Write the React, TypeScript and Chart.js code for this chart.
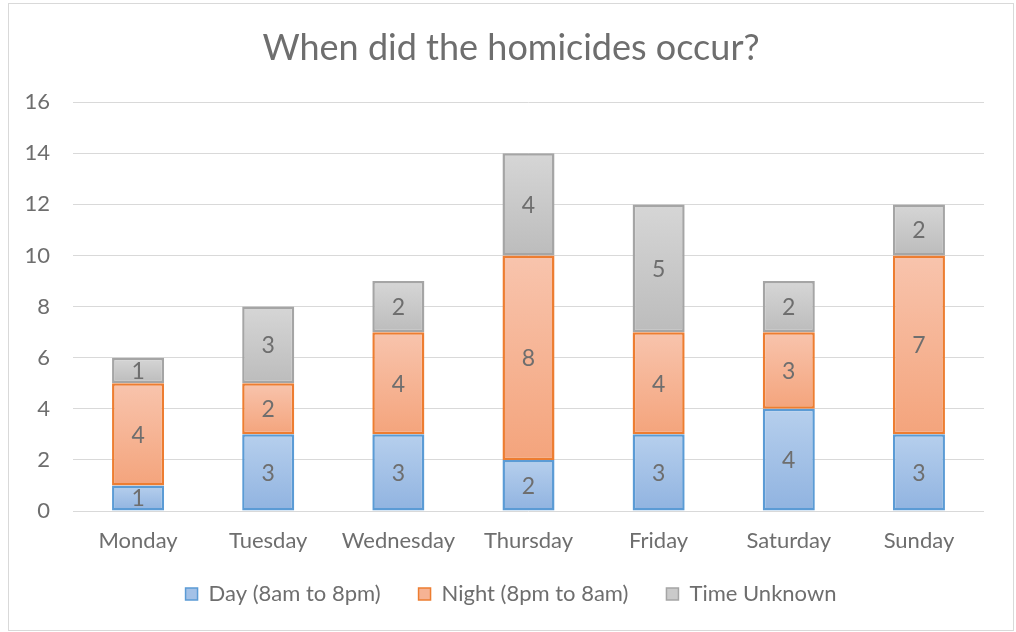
import React, { useEffect, useRef } from "react";
import { Chart, registerables } from "chart.js";

Chart.register(...registerables);

const days = ["Monday", "Tuesday", "Wednesday", "Thursday", "Friday", "Saturday", "Sunday"];
const dayValues = [1, 3, 3, 2, 3, 4, 3];
const nightValues = [4, 2, 4, 8, 4, 3, 7];
const unknownValues = [1, 3, 2, 4, 5, 2, 2];
const seriesNames = ["Day (8am to 8pm)", "Night (8pm to 8am)", "Time Unknown"];
const titleText = "When did the homicides occur?";

const FONT = "Lato, 'Open Sans', sans-serif";
const TEXT = "#6e6e6e";

function gradientFill(top: string, bottom: string, below: number[][]) {
  return (ctx: any) => {
    const chart = ctx.chart;
    const y = chart.scales?.y;
    if (!y || ctx.type !== "data") return bottom;
    const i = ctx.dataIndex;
    let base = 0;
    for (const arr of below) base += arr[i];
    const v = ctx.raw as number;
    const y0 = y.getPixelForValue(base + v);
    const y1 = y.getPixelForValue(base);
    if (!isFinite(y0) || !isFinite(y1) || y0 === y1) return bottom;
    const g = chart.ctx.createLinearGradient(0, y0, 0, y1);
    g.addColorStop(0, top);
    g.addColorStop(1, bottom);
    return g;
  };
}

const valueLabels = {
  id: "valueLabels",
  afterDatasetsDraw(chart: any) {
    const c = chart.ctx;
    c.save();
    c.font = `23px ${FONT}`;
    c.fillStyle = TEXT;
    c.textAlign = "center";
    c.textBaseline = "middle";
    chart.data.datasets.forEach((ds: any, di: number) => {
      const meta = chart.getDatasetMeta(di);
      meta.data.forEach((el: any, i: number) => {
        const v = ds.data[i];
        if (!v) return;
        c.fillText(String(v), el.x, (el.y + el.base) / 2 + 1);
      });
    });
    c.restore();
  },
};

const legendShift = {
  id: "legendShift",
  afterLayout(chart: any) {
    const lg = chart.legend;
    if (lg) {
      lg.top -= 9;
      lg.bottom -= 9;
    }
  },
};

const legendFills = ["#a3c1e7", "#f6b394", "#cacaca"];

export default function App() {
  const ref = useRef<HTMLCanvasElement | null>(null);
  useEffect(() => {
    if (!ref.current) return;
    const common = {
      borderWidth: 2.5,
      borderSkipped: false as const,
      categoryPercentage: 1,
      barPercentage: 0.4,
    };
    const chart = new Chart(ref.current, {
      type: "bar",
      data: {
        labels: days,
        datasets: [
          {
            label: seriesNames[0],
            data: dayValues,
            backgroundColor: gradientFill("#b6cfed", "#90b3e0", []),
            borderColor: "#5b9bd5",
            ...common,
          },
          {
            label: seriesNames[1],
            data: nightValues,
            backgroundColor: gradientFill("#f8c4ad", "#f4a47c", [dayValues]),
            borderColor: "#ed7d31",
            ...common,
          },
          {
            label: seriesNames[2],
            data: unknownValues,
            backgroundColor: gradientFill("#d6d6d6", "#bcbcbc", [dayValues, nightValues]),
            borderColor: "#a5a5a5",
            ...common,
          },
        ],
      },
      options: {
        animation: false,
        responsive: true,
        maintainAspectRatio: false,
        layout: { padding: { top: 23, left: 0, right: 0, bottom: 6 } },
        plugins: {
          title: {
            display: true,
            text: titleText,
            color: TEXT,
            font: { family: FONT, size: 36, weight: "normal" },
            padding: { top: 0, bottom: 32 },
          },
          legend: {
            position: "bottom",
            labels: {
              color: TEXT,
              font: { family: FONT, size: 22 },
              boxWidth: 12,
              boxHeight: 12,
              padding: 38,
              generateLabels: (chart: any) =>
                chart.data.datasets.map((ds: any, i: number) => ({
                  text: ds.label,
                  fillStyle: legendFills[i],
                  strokeStyle: ds.borderColor,
                  lineWidth: 1.5,
                  fontColor: TEXT,
                  datasetIndex: i,
                  hidden: false,
                })),
            },
          },
          tooltip: { enabled: false },
        },
        scales: {
          x: {
            stacked: true,
            grid: { display: false, drawTicks: false },
            border: { display: false },
            ticks: { color: TEXT, font: { family: FONT, size: 22 }, padding: 17 },
            afterFit: (s: any) => {
              s.height = 43;
            },
          },
          y: {
            stacked: true,
            min: 0,
            max: 16,
            grid: { color: "#d9d9d9", lineWidth: 1, drawTicks: false },
            border: { display: false },
            ticks: { stepSize: 2, color: TEXT, font: { family: FONT, size: 22 }, padding: 23 },
            afterFit: (s: any) => {
              s.width = 64;
            },
          },
          y2: {
            position: "right",
            display: true,
            min: 0,
            max: 16,
            grid: { display: false, drawTicks: false },
            border: { display: false },
            ticks: { display: false },
            afterFit: (s: any) => {
              s.width = 29;
            },
          },
        },
      },
      plugins: [valueLabels, legendShift],
    });
    return () => chart.destroy();
  }, []);

  return (
    <div
      style={{
        position: "absolute",
        left: 8,
        top: 3,
        width: 1006,
        height: 628,
        border: "1px solid #d9d9d9",
        boxSizing: "border-box",
        background: "#fff",
      }}
    >
      <div style={{ position: "relative", width: 1004, height: 626 }}>
        <canvas ref={ref} />
      </div>
    </div>
  );
}
